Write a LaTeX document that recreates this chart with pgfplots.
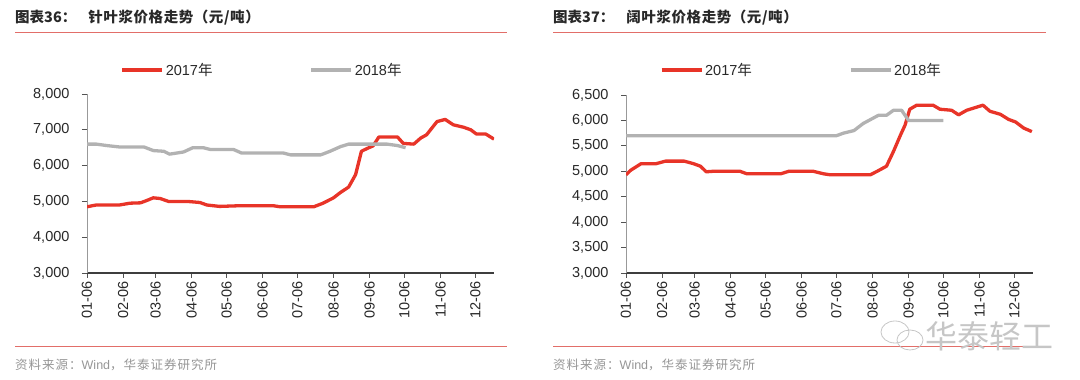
\documentclass[border=0pt]{standalone}
\usepackage{fontspec}
\setmainfont{Liberation Sans}
\newfontfamily\cjk{Noto Sans CJK SC}
\newfontfamily\cjkwide[LetterSpace=8]{Noto Sans CJK SC}
\usepackage{pgfplots}
\usepackage{pgfplotstable}
\pgfplotsset{compat=1.18}

\definecolor{redline}{RGB}{232,52,40}
\definecolor{grayline}{RGB}{178,178,178}
\definecolor{rule}{RGB}{226,110,105}
\definecolor{txt}{RGB}{40,40,40}
\definecolor{src}{RGB}{150,150,150}

% day offset from Jan 6
\pgfplotstableread{
x y
0 4850
8 4900
28 4900
37 4950
46 4960
51 5020
57 5100
63 5080
70 5000
86 5000
97 4970
103 4900
114 4860
123 4870
132 4880
160 4880
166 4850
195 4850
203 4950
212 5100
218 5250
225 5400
231 5750
236 6400
241 6480
246 6550
251 6800
267 6800
272 6620
281 6600
287 6770
292 6860
301 7230
308 7290
315 7140
324 7070
330 7000
335 6880
343 6880
350 6740
}\softA

\pgfplotstableread{
x y
0 6600
8 6600
17 6560
28 6520
49 6520
57 6420
66 6400
71 6320
83 6380
91 6500
100 6500
106 6450
126 6450
133 6350
169 6350
175 6300
201 6300
209 6400
218 6530
225 6600
258 6600
267 6560
274 6500
}\softB

\pgfplotstableread{
x y
0 4930
4 5020
13 5150
26 5150
34 5200
50 5200
58 5150
64 5100
69 4990
75 5000
98 5000
104 4950
133 4950
140 5000
161 5000
170 4950
176 4930
210 4930
216 5000
224 5100
230 5390
236 5710
240 5910
244 6220
250 6300
264 6300
270 6220
280 6200
286 6110
293 6200
300 6250
307 6300
313 6180
322 6120
329 6020
335 5970
342 5850
349 5780
}\hardA

\pgfplotstableread{
x y
0 5700
181 5700
187 5750
196 5800
204 5940
217 6100
224 6100
230 6200
237 6200
243 6000
273 6000
}\hardB

\pgfplotsset{
  pulp/.style={
    scale only axis,
    width=407pt,
    xmin=0, xmax=350,
    axis x line*=bottom,
    axis y line*=left,
    x axis line style={-, draw=txt!90, line width=1.5pt},
    y axis line style={-, draw=gray!80, line width=1pt},
    tick align=outside,
    major tick length=5pt,
    every tick/.style={draw=txt!80, line width=0.9pt},
    xtick={0,31,59,90,120,151,181,212,243,273,304,334},
    xticklabels={01-06,02-06,03-06,04-06,05-06,06-06,07-06,08-06,09-06,10-06,11-06,12-06},
    xticklabel style={rotate=90, anchor=east, font=\fontsize{14.5}{16}\selectfont, text=txt},
    yticklabel style={font=\fontsize{14.5}{16}\selectfont, text=txt, xshift=-9pt},
    /pgf/number format/assume math mode=true,
    /pgf/number format/1000 sep={,},
    scaled y ticks=false,
    legend columns=2,
    legend style={draw=none, fill=none, font=\fontsize{14.5}{16}\selectfont, text=txt,
      /tikz/every even column/.append style={column sep=95pt},
      inner sep=0pt},
    legend cell align=left,
    legend image code/.code={\draw[#1] (0pt,0pt) -- (40pt,0pt);},
  },
}

\begin{document}
\begin{tikzpicture}[x=1pt,y=1pt]
\useasboundingbox (0,0) rectangle (1080,380);

% ---------- titles and rules ----------
\node[anchor=west, inner sep=0pt, text=txt] at (15,362) {\cjk\bfseries\fontsize{14.5}{16}\selectfont 图表36：\hspace{12pt}\addfontfeatures{LetterSpace=4}针叶浆价格走势（元/吨）};
\node[anchor=west, inner sep=0pt, text=txt] at (553,362) {\cjk\bfseries\fontsize{14.5}{16}\selectfont 图表37：\hspace{12pt}\addfontfeatures{LetterSpace=4}阔叶浆价格走势（元/吨）};
\draw[rule, line width=1pt] (15,347) -- (507,347);
\draw[rule, line width=1pt] (553,347) -- (1046,347);
\draw[rule, line width=1pt] (15,33) -- (507,33);
\draw[rule, line width=1pt] (553,33) -- (1046,33);
\node[anchor=west, inner sep=0pt, text=src] at (15,15) {\fontsize{12.5}{14}\selectfont\cjkwide 资料来源：\fontspec{Liberation Sans}Wind\cjkwide，华泰证券研究所};
\node[anchor=west, inner sep=0pt, text=src] at (553,15) {\fontsize{12.5}{14}\selectfont\cjkwide 资料来源：\fontspec{Liberation Sans}Wind\cjkwide，华泰证券研究所};

% ---------- left chart ----------
\begin{axis}[pulp,
  at={(87pt,107pt)}, anchor=south west,
  height=179pt,
  ymin=3000, ymax=8000, ytick={3000,4000,5000,6000,7000,8000},
  legend style={at={(0.43,1.134)}, anchor=center},
]
\addplot[redline, line width=3.3pt, line join=round] table[x=x,y=y] {\softA};
\addlegendentry{2017{\cjk 年}}
\addplot[grayline, line width=3.3pt, line join=round] table[x=x,y=y] {\softB};
\addlegendentry{2018{\cjk 年}}
\end{axis}

% ---------- right chart ----------
\begin{axis}[pulp,
  at={(626pt,107pt)}, anchor=south west,
  height=178pt,
  ymin=3000, ymax=6500, ytick={3000,3500,4000,4500,5000,5500,6000,6500},
  legend style={at={(0.431,1.14)}, anchor=center},
]
\addplot[redline, line width=3.3pt, line join=round] table[x=x,y=y] {\hardA};
\addlegendentry{2017{\cjk 年}}
\addplot[grayline, line width=3.3pt, line join=round] table[x=x,y=y] {\hardB};
\addlegendentry{2018{\cjk 年}}
\end{axis}

% ---------- watermark ----------
\draw[gray!45, line width=0.8pt] (895,48) ellipse (14pt and 11pt);
\draw[gray!45, line width=0.8pt] (910,40) ellipse (13pt and 10pt);
\node[anchor=west, inner sep=0pt, text=gray!45] at (925,44) {\cjk\fontsize{32}{34}\selectfont 华泰轻工};
\end{tikzpicture}
\end{document}
